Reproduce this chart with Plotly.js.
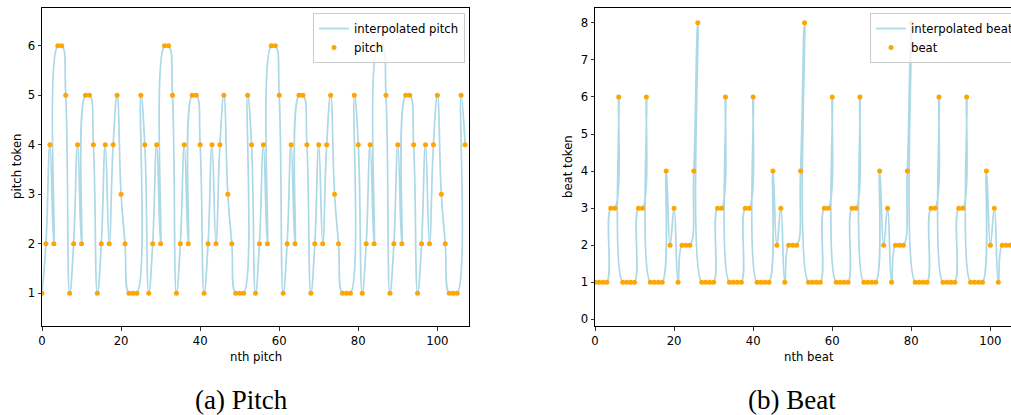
<!DOCTYPE html>
<html>
<head>
<meta charset="utf-8">
<script src="https://cdn.plot.ly/plotly-3.0.1.min.js"></script>
<style>
html, body { margin: 0; padding: 0; overflow: hidden; background: #fff; width: 1011px; height: 415px; }
#plot { width: 1060px; height: 415px; }
</style>
</head>
<body>
<div id="plot"></div>
<script>
// ---- data ----
const pitchTokens = [
  1,2,4,2,6,6,5,1,2,4,2,5,5,4,1,2,4,2,4,5,3,2,1,1,1,5,4,
  1,2,4,2,6,6,5,1,2,4,2,5,5,4,1,2,4,2,4,5,3,2,1,1,1,5,4,
  1,2,4,2,6,6,5,1,2,4,2,5,5,4,1,2,4,2,4,5,3,2,1,1,1,5,4,
  1,2,4,2,6,6,5,1,2,4,2,5,5,4,1,2,4,2,4,5,3,2,1,1,1,5,4
];
const beatTokens = [
  1,1,1,1,3,3,6,1,1,1,1,3,3,6,1,1,1,1,4,2,3,1,2,2,2,4,8,
  1,1,1,1,3,3,6,1,1,1,1,3,3,6,1,1,1,1,4,2,3,1,2,2,2,4,8,
  1,1,1,1,3,3,6,1,1,1,1,3,3,6,1,1,1,1,4,2,3,1,2,2,2,4,8,
  1,1,1,1,3,3,6,1,1,1,1,3,3,6,1,1,1,1,4,2,3,1,2,2,2,4,8
];
const pitchTickVals = [1,2,3,4,5,6];
const beatTickVals = [0,1,2,3,4,5,6,7,8];
const xTickVals = [0,20,40,60,80,100];
const legendNamesPitch = ["interpolated pitch", "pitch"];
const legendNamesBeat = ["interpolated beat", "beat"];
const axisTitles = { pitchX: "nth pitch", pitchY: "pitch token", beatX: "nth beat", beatY: "beat token" };
const captions = ["(a) Pitch", "(b) Beat"];

// ---- geometry helpers (pixel -> paper) ----
const W = 1060, H = 415;
const fx = p => p / W;
const fy = p => (H - p) / H;

const LINE_COLOR = "#add8e6";
const DOT_COLOR = "#ffa500";
const FONT = "DejaVu Sans";
const FS = 11.7;

const traces = [
  { y: pitchTokens, x0: 0, dx: 1, type: "scatter", mode: "lines", name: legendNamesPitch[0],
    line: { color: LINE_COLOR, width: 1.7, shape: "spline", smoothing: 1.3 },
    xaxis: "x", yaxis: "y", legend: "legend", hoverinfo: "skip" },
  { y: pitchTokens, x0: 0, dx: 1, type: "scatter", mode: "markers", name: legendNamesPitch[1],
    marker: { color: DOT_COLOR, size: 5 }, xaxis: "x", yaxis: "y", legend: "legend" },
  { y: beatTokens, x0: 0, dx: 1, type: "scatter", mode: "lines", name: legendNamesBeat[0],
    line: { color: LINE_COLOR, width: 1.7, shape: "spline", smoothing: 1.3 },
    xaxis: "x2", yaxis: "y2", legend: "legend2", hoverinfo: "skip" },
  { y: beatTokens, x0: 0, dx: 1, type: "scatter", mode: "markers", name: legendNamesBeat[1],
    marker: { color: DOT_COLOR, size: 5 }, xaxis: "x2", yaxis: "y2", legend: "legend2" }
];

const axisBase = {
  showgrid: false, zeroline: false, showline: true, linecolor: "#000", linewidth: 1,
  mirror: true, ticks: "outside", ticklen: 3.5, tickwidth: 0.8, tickcolor: "#000",
  tickfont: { family: FONT, size: FS, color: "#000" }, automargin: false, fixedrange: true
};

const legendBase = {
  bgcolor: "rgba(255,255,255,0.8)", bordercolor: "#cccccc", borderwidth: 1,
  font: { family: FONT, size: FS, color: "#000" }, xanchor: "left", yanchor: "top",
  tracegroupgap: 0, itemwidth: 30
};

const layout = {
  width: W, height: H,
  margin: { l: 0, r: 0, t: 0, b: 0 },
  paper_bgcolor: "#fff", plot_bgcolor: "#fff",
  showlegend: true,
  xaxis: Object.assign({}, axisBase, { domain: [fx(42), fx(469)], range: [0, 108], tickvals: xTickVals, anchor: "y" }),
  yaxis: Object.assign({}, axisBase, { domain: [fy(326), fy(8)], range: [0.34, 6.76], tickvals: pitchTickVals, anchor: "x" }),
  xaxis2: Object.assign({}, axisBase, { domain: [fx(595), fx(1022)], range: [0, 108], tickvals: xTickVals, anchor: "y2" }),
  yaxis2: Object.assign({}, axisBase, { domain: [fy(326), fy(8)], range: [-0.18, 8.4], tickvals: beatTickVals, anchor: "x2" }),
  legend: Object.assign({}, legendBase, { x: fx(313), y: fy(13) }),
  legend2: Object.assign({}, legendBase, { x: fx(870), y: fy(13) }),
  annotations: [
    { text: axisTitles.pitchX, xref: "paper", yref: "paper", x: fx(255.5), y: fy(357), showarrow: false,
      xanchor: "center", yanchor: "middle", font: { family: FONT, size: FS, color: "#000" } },
    { text: axisTitles.beatX, xref: "paper", yref: "paper", x: fx(809), y: fy(357), showarrow: false,
      xanchor: "center", yanchor: "middle", font: { family: FONT, size: FS, color: "#000" } },
    { text: axisTitles.pitchY, xref: "paper", yref: "paper", x: fx(17), y: fy(167), showarrow: false, textangle: -90,
      xanchor: "center", yanchor: "middle", font: { family: FONT, size: FS, color: "#000" } },
    { text: axisTitles.beatY, xref: "paper", yref: "paper", x: fx(568), y: fy(167), showarrow: false, textangle: -90,
      xanchor: "center", yanchor: "middle", font: { family: FONT, size: FS, color: "#000" } },
    { text: captions[0], xref: "paper", yref: "paper", x: fx(241), y: fy(400), showarrow: false,
      xanchor: "center", yanchor: "middle", font: { family: "Liberation Serif", size: 27, color: "#000" } },
    { text: captions[1], xref: "paper", yref: "paper", x: fx(792), y: fy(400), showarrow: false,
      xanchor: "center", yanchor: "middle", font: { family: "Liberation Serif", size: 27, color: "#000" } }
  ]
};

Plotly.newPlot("plot", traces, layout, { staticPlot: true, displayModeBar: false });
</script>
</body>
</html>
